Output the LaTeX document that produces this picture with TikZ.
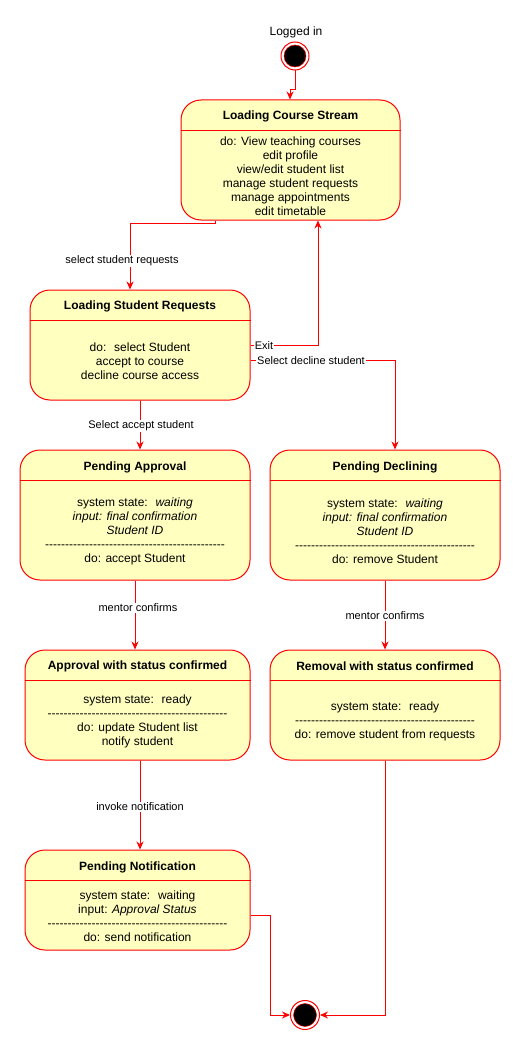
\documentclass[tikz,border=0pt]{standalone}
\usepackage{fontspec}
\setmainfont{Liberation Sans}
\usetikzlibrary{arrows.meta}

\definecolor{statefill}{HTML}{FFFFC0}
\definecolor{umlred}{HTML}{FF0000}

% a row of hyphens used as a separator inside state bodies
\newcommand\dashrow{\foreach\k in {1,...,45}{\mbox{-}}}

\tikzset{
  state/.style={draw=umlred, fill=statefill, rounded corners=20pt, line width=1pt,
                inner sep=0pt, minimum height=#1},
  titletext/.style={font=\fontsize{12}{14}\selectfont\bfseries, inner sep=0pt},
  bodytext/.style={font=\fontsize{12}{14}\selectfont, align=center, inner sep=0pt},
  edgelabel/.style={font=\fontsize{11}{13}\selectfont, fill=white, inner sep=1pt},
  flow/.style={draw=umlred, line width=1pt, -{Stealth[length=8pt,width=7pt]}},
  divider/.style={draw=umlred, line width=1pt},
}

\begin{document}
\begin{tikzpicture}[x=1pt, y=-1pt]
\useasboundingbox[fill=white] (0,0) rectangle (521,1051);

% initial and final pseudo states
\node[bodytext] (start-l) at (296,32) {Logged in};
\node[circle, draw=umlred, fill=white, line width=1pt, minimum size=28pt, inner sep=0pt] (start) at (295,56) {};
\node[circle, draw=umlred, fill=black, line width=0.5pt, minimum size=22pt, inner sep=0pt] (start-dot) at (start) {};
\node[circle, draw=umlred, fill=white, line width=1pt, minimum size=29pt, inner sep=0pt] (final) at (305,1015) {};
\node[circle, draw=umlred, fill=black, line width=0.5pt, minimum size=23pt, inner sep=0pt] (final-dot) at (final) {};

% Loading Course Stream
\node[state=120pt, minimum width=219pt] (lcs) at (290.5,160) {};
\draw[divider] (lcs.west |- 0,131) -- (lcs.east |- 0,131);
\node[titletext] (lcs-t) at (290.5,116.5) {Loading Course Stream};
\node[bodytext] (lcs-b) at (290.5,176.5) {do: View teaching courses\\edit profile\\view/edit student list\\manage student requests\\manage appointments\\edit timetable};

% Loading Student Requests
\node[state=110pt, minimum width=220pt] (lsr) at (140,345) {};
\draw[divider] (lsr.west |- 0,320) -- (lsr.east |- 0,320);
\node[titletext] (lsr-t) at (140,306.5) {Loading Student Requests};
\node[bodytext] (lsr-b) at (140,361) {do:~ select Student\\accept to course\\decline course access};

% Pending Approval
\node[state=130pt, minimum width=230pt] (pa) at (135,515) {};
\draw[divider] (pa.west |- 0,480) -- (pa.east |- 0,480);
\node[titletext] (pa-t) at (135,467.5) {Pending Approval};
\node[bodytext] (pa-b) at (135,531.5) {system state:~ \textit{waiting}\\\textit{input: final confirmation}\\\textit{Student ID}\\\dashrow\\do: accept Student};

% Pending Declining
\node[state=130pt, minimum width=230pt] (pd) at (385,515) {};
\draw[divider] (pd.west |- 0,480) -- (pd.east |- 0,480);
\node[titletext] (pd-t) at (385,467.5) {Pending Declining};
\node[bodytext] (pd-b) at (385,531.5) {system state:~ \textit{waiting}\\\textit{input: final confirmation}\\\textit{Student ID}\\\dashrow\\do: remove Student};

% Approval with status confirmed
\node[state=110pt, minimum width=225pt] (awc) at (137.5,705) {};
\draw[divider] (awc.west |- 0,680) -- (awc.east |- 0,680);
\node[titletext] (awc-t) at (137.5,666.5) {Approval with status confirmed};
\node[bodytext] (awc-b) at (137.5,721.5) {system state:~ ready\\\dashrow\\do: update Student list\\notify student};

% Removal with status confirmed
\node[state=110pt, minimum width=230pt] (rwc) at (385,705) {};
\draw[divider] (rwc.west |- 0,680) -- (rwc.east |- 0,680);
\node[titletext] (rwc-t) at (385,666.5) {Removal with status confirmed};
\node[bodytext] (rwc-b) at (385,721.5) {system state:~ ready\\\dashrow\\do: remove student from requests};

% Pending Notification
\node[state=100pt, minimum width=225pt] (pn) at (137.5,900) {};
\draw[divider] (pn.west |- 0,880) -- (pn.east |- 0,880);
\node[titletext] (pn-t) at (137.5,867.5) {Pending Notification};
\node[bodytext] (pn-b) at (137.5,916.5) {system state:~ waiting\\input: \textit{Approval Status}\\\dashrow\\do: send notification};

% transitions
\draw[flow] (start.south) -- (295,90) -- (290,90) -- (lcs.north -| 290,0);

\draw[flow] (lcs.south -| 215,0) -- (215,223) -- (130,223) -- (lsr.north -| 130,0);
\node[edgelabel] (l-ssr) at (122,261) {select student requests};

\draw[flow] (lsr.east |- 0,345) -- (318,345) -- (lcs.south -| 318,0);
\node[edgelabel] (l-exit) at (264,346) {Exit};

\draw[flow] (lsr.east |- 0,360) -- (395,360) -- (pd.north -| 395,0);
\node[edgelabel] (l-dec) at (311,361) {Select decline student};

\draw[flow] (lsr.south -| 140,0) -- (pa.north -| 140,0);
\node[edgelabel] (l-acc) at (141,426) {Select accept student};

\draw[flow] (pa.south -| 135,0) -- (awc.north -| 135,0);
\node[edgelabel] (l-mc1) at (138,608) {mentor confirms};

\draw[flow] (pd.south -| 385,0) -- (rwc.north -| 385,0);
\node[edgelabel] (l-mc2) at (385,616) {mentor confirms};

\draw[flow] (awc.south -| 140,0) -- (pn.north -| 140,0);
\node[edgelabel] (l-inv) at (140,807) {invoke notification};

\draw[flow] (pn.east |- 0,915) -- (270,915) -- (270,1015) -- (final.west);
\draw[flow] (rwc.south -| 385,0) -- (385,1015) -- (final.east);
\end{tikzpicture}
\end{document}
